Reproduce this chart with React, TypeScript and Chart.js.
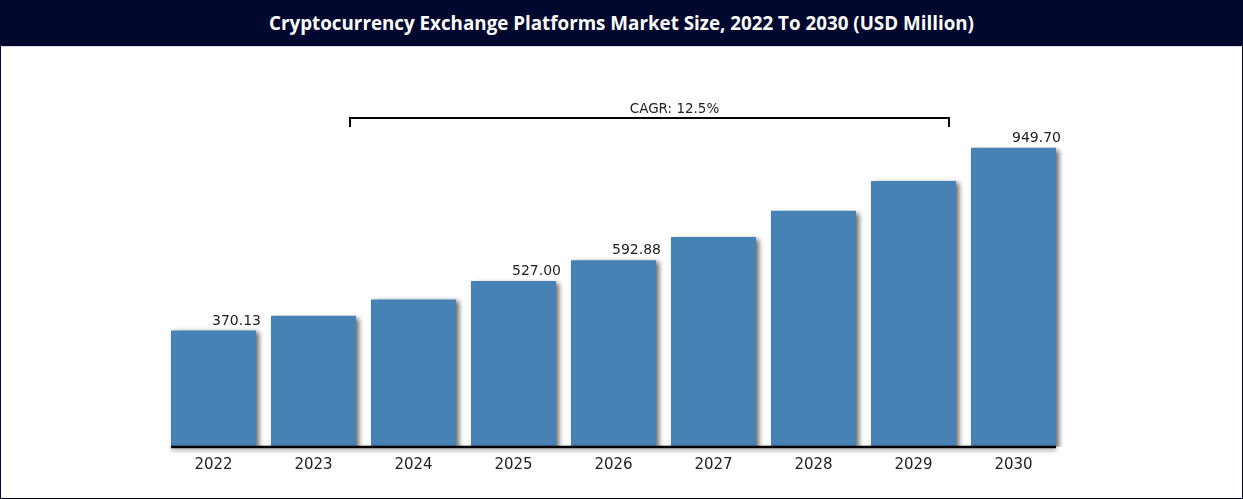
import React, { useEffect, useRef } from "react";
import { Chart, registerables } from "chart.js";

Chart.register(...registerables);

const TITLE = "Cryptocurrency Exchange Platforms Market Size, 2022 To 2030 (USD Million)";
const YEARS = ["2022", "2023", "2024", "2025", "2026", "2027", "2028", "2029", "2030"];
const VALUES = [370.13, 416.4, 468.5, 527.0, 592.88, 666.9, 750.3, 844.1, 949.7];
const SHOW_LABEL = [true, false, false, true, true, false, false, false, true];
const CAGR_TEXT = "CAGR: 12.5%";
const CAGR_FROM = 1;
const CAGR_TO = 7;

const BAR_COLOR = "#4682b4";
const FONT = "'DejaVu Sans', Verdana, sans-serif";

const shadowPlugin = {
  id: "barShadow",
  beforeDatasetsDraw(chart: any) {
    const ctx = chart.ctx;
    ctx.save();
    ctx.shadowColor = "rgba(0,0,0,0.6)";
    ctx.shadowBlur = 5;
    ctx.shadowOffsetX = 3;
    ctx.shadowOffsetY = 2;
  },
  afterDatasetsDraw(chart: any) {
    chart.ctx.restore();
  },
};

const overlayPlugin = {
  id: "overlay",
  afterDraw(chart: any) {
    const ctx = chart.ctx;
    const meta = chart.getDatasetMeta(0);
    const x = chart.scales.x;
    const area = chart.chartArea;
    const first = meta.data[0];
    const last = meta.data[meta.data.length - 1];
    // baseline
    ctx.save();
    ctx.shadowColor = "rgba(0,0,0,0.45)";
    ctx.shadowBlur = 4;
    ctx.shadowOffsetY = 2;
    ctx.strokeStyle = "#000";
    ctx.lineWidth = 2.5;
    ctx.beginPath();
    ctx.moveTo(first.x - first.width / 2, area.bottom);
    ctx.lineTo(last.x + last.width / 2, area.bottom);
    ctx.stroke();
    ctx.restore();

    // value labels
    ctx.save();
    ctx.font = `14px ${FONT}`;
    ctx.fillStyle = "#222";
    ctx.textAlign = "right";
    ctx.textBaseline = "middle";
    meta.data.forEach((bar: any, i: number) => {
      if (!SHOW_LABEL[i]) return;
      ctx.fillText(VALUES[i].toFixed(2), bar.x + bar.width / 2 + 5, bar.y - 9.5);
    });
    ctx.restore();

    // CAGR bracket
    const left = x.getPixelForValue(CAGR_FROM + 0.365);
    const right = x.getPixelForValue(CAGR_TO + 0.355);
    const yLine = area.top - 14;
    ctx.save();
    ctx.strokeStyle = "#000";
    ctx.lineWidth = 2;
    ctx.beginPath();
    ctx.moveTo(left, yLine + 9);
    ctx.lineTo(left, yLine);
    ctx.lineTo(right, yLine);
    ctx.lineTo(right, yLine + 9);
    ctx.stroke();
    ctx.font = `13.5px ${FONT}`;
    ctx.fillStyle = "#222";
    ctx.textAlign = "center";
    ctx.textBaseline = "middle";
    ctx.fillText(CAGR_TEXT, (left + right) / 2 + 25, yLine - 9);
    ctx.restore();
  },
};

export default function App() {
  const canvasRef = useRef<HTMLCanvasElement | null>(null);

  useEffect(() => {
    document.body.style.margin = "0";
    const chart = new Chart(canvasRef.current as HTMLCanvasElement, {
      type: "bar",
      data: {
        labels: YEARS,
        datasets: [
          {
            data: VALUES,
            backgroundColor: BAR_COLOR,
            borderWidth: 0,
            categoryPercentage: 1,
            barPercentage: 0.85,
          },
        ],
      },
      options: {
        animation: false,
        responsive: true,
        maintainAspectRatio: false,
        layout: { padding: { left: 162.5, right: 178.5, top: 85, bottom: 23 } },
        plugins: { legend: { display: false }, tooltip: { enabled: false }, title: { display: false } },
        scales: {
          x: {
            grid: { display: false },
            border: { display: false },
            ticks: { color: "#222", padding: 1, font: { family: FONT, size: 15 } },
          },
          y: { display: false, min: 0, max: 1000 },
        },
      },
      plugins: [shadowPlugin, overlayPlugin],
    });
    return () => chart.destroy();
  }, []);

  return (
    <div
      style={{
        width: 1243,
        height: 499,
        boxSizing: "border-box",
        border: "1px solid #00072f",
        background: "#fff",
        overflow: "hidden",
      }}
    >
      <div
        style={{
          height: 45,
          background: "#000830",
          color: "#fff",
          fontFamily: "'Open Sans', sans-serif",
          fontWeight: 700,
          fontSize: 18.8,
          lineHeight: "45px",
          textAlign: "center",
          whiteSpace: "nowrap",
          borderBottom: "1px solid #d8dbe6",
        }}
      >
        {TITLE}
      </div>
      <div style={{ position: "relative", width: 1241, height: 451 }}>
        <canvas ref={canvasRef} />
      </div>
    </div>
  );
}
